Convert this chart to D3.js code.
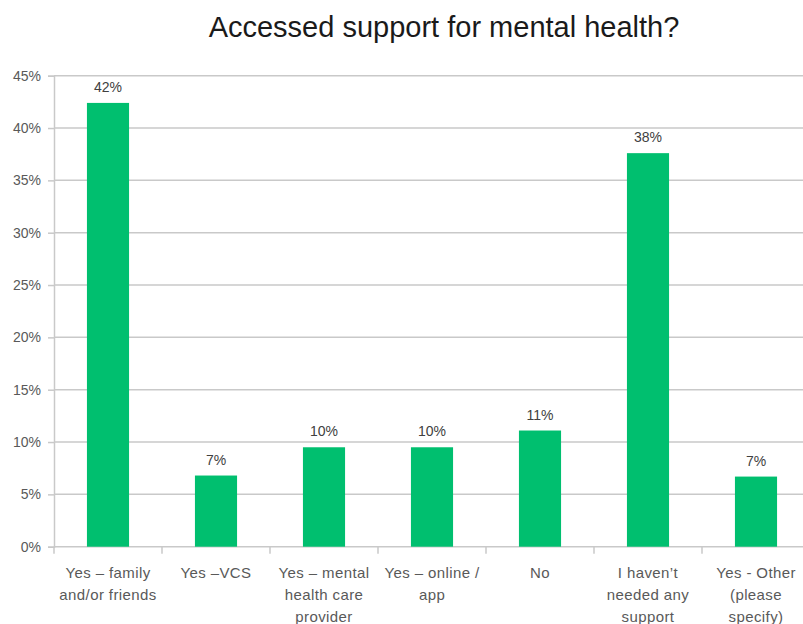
<!DOCTYPE html>
<html>
<head>
<meta charset="utf-8">
<script src="https://cdn.jsdelivr.net/npm/d3@7"></script>
<style>
  html, body { margin: 0; padding: 0; background: #fff; }
  svg { display: block; font-family: "Liberation Sans", Arial, sans-serif; }
</style>
</head>
<body>
<svg id="chart" width="803" height="624"></svg>
<script>
// Survey responses: share of respondents per answer (percent)
const categories = [
  ["Yes – family", "and/or friends"],
  ["Yes –VCS"],
  ["Yes – mental", "health care", "provider"],
  ["Yes – online /", "app"],
  ["No"],
  ["I haven’t", "needed any", "support"],
  ["Yes - Other", "(please", "specify)"]
];
const values = [42.4, 6.8, 9.5, 9.5, 11.1, 37.6, 6.7];
const yTicks = [0, 5, 10, 15, 20, 25, 30, 35, 40, 45];
const title = "Accessed support for mental health?";

const svg = d3.select("#chart");
const W = 803, H = 624;
const plotLeft = 54, plotRight = 810, plotTop = 75.7, plotBottom = 546.7;

const x = d3.scaleBand()
  .domain(d3.range(categories.length))
  .range([plotLeft, plotRight])
  .paddingInner(0.61)
  .paddingOuter(0.305);

const y = d3.scaleLinear().domain([0, 45]).range([plotBottom, plotTop]);

const gridColor = "#c9c9c9";
const textGray = "#595959";

// Horizontal gridlines
svg.append("g")
  .selectAll("line")
  .data(yTicks.filter(d => d > 0))
  .join("line")
  .attr("x1", plotLeft).attr("x2", W)
  .attr("y1", d => y(d)).attr("y2", d => y(d))
  .attr("stroke", gridColor).attr("stroke-width", 1.5);

// Y axis
const yAxis = svg.append("g")
  .attr("transform", `translate(${plotLeft},0)`)
  .call(d3.axisLeft(y).tickValues(yTicks).tickSize(6).tickPadding(7)
    .tickFormat(d => d + "%"));
yAxis.select(".domain").attr("stroke", gridColor).attr("stroke-width", 1.5);
yAxis.selectAll(".tick line").attr("stroke", gridColor).attr("stroke-width", 1.5);
yAxis.selectAll(".tick text")
  .attr("fill", textGray).attr("font-size", 14)
  .attr("font-family", "Liberation Sans, Arial, sans-serif");

// X axis baseline with tick marks between categories
svg.append("line")
  .attr("x1", plotLeft).attr("x2", W)
  .attr("y1", plotBottom).attr("y2", plotBottom)
  .attr("stroke", gridColor).attr("stroke-width", 1.5);
const step = x.step();
svg.append("g")
  .selectAll("line")
  .data(d3.range(categories.length + 1))
  .join("line")
  .attr("x1", i => plotLeft + i * step).attr("x2", i => plotLeft + i * step)
  .attr("y1", plotBottom).attr("y2", plotBottom + 7)
  .attr("stroke", gridColor).attr("stroke-width", 1.5);

// Bars
svg.append("g")
  .selectAll("rect")
  .data(values)
  .join("rect")
  .attr("x", (d, i) => x(i))
  .attr("width", x.bandwidth())
  .attr("y", d => y(d))
  .attr("height", d => y(0) - y(d))
  .attr("fill", "#00bf6f");

// Value labels
const fmt = d3.format(".0f");
svg.append("g")
  .selectAll("text")
  .data(values)
  .join("text")
  .attr("x", (d, i) => x(i) + x.bandwidth() / 2)
  .attr("y", d => y(d) - 11)
  .attr("text-anchor", "middle")
  .attr("font-size", 14)
  .attr("fill", "#404040")
  .text(d => fmt(d) + "%");

// Category labels (multi-line)
const cat = svg.append("g")
  .selectAll("text")
  .data(categories)
  .join("text")
  .attr("text-anchor", "middle")
  .attr("font-size", 15)
  .attr("letter-spacing", 0.4)
  .attr("fill", textGray)
  .attr("transform", (d, i) => `translate(${x(i) + x.bandwidth() / 2},578)`);
cat.selectAll("tspan")
  .data(d => d)
  .join("tspan")
  .attr("x", 0)
  .attr("y", (d, j) => j * 22)
  .text(d => d);

// Title
svg.append("text")
  .attr("x", 444).attr("y", 37)
  .attr("text-anchor", "middle")
  .attr("font-size", 29)
  .attr("fill", "#1a1a1a")
  .text(title);
</script>
</body>
</html>
